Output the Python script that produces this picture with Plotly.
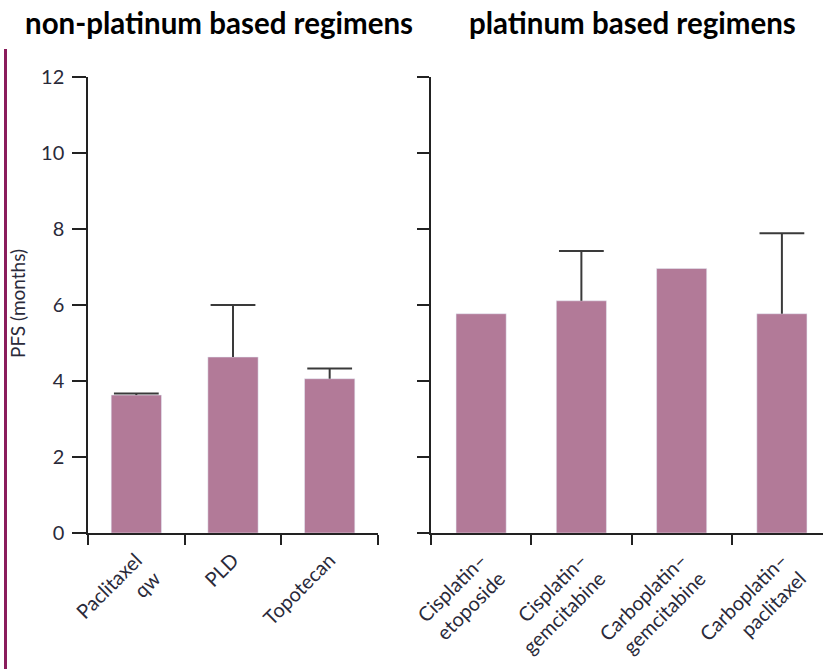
import plotly.graph_objects as go

# PFS (months) by regimen
non_plat_labels = ["Paclitaxel<br>qw", "PLD", "Topotecan"]
non_plat_pfs = [3.63, 4.63, 4.06]
non_plat_err = [0.04, 1.37, 0.27]

plat_labels = ["Cisplatin–<br>etoposide", "Cisplatin–<br>gemcitabine",
               "Carboplatin–<br>gemcitabine", "Carboplatin–<br>paclitaxel"]
plat_pfs = [5.77, 6.11, 6.96, 5.77]
plat_err = [None, 1.31, None, 2.12]

y_ticks = [0, 2, 4, 6, 8, 10, 12]
titles = ["non-platinum based regimens", "platinum based regimens"]

BAR = "#b27a98"
AXIS = "#222222"
ERR = "#3a3a3a"
FONT = "Lato"

W, H = 823, 669
T, B = 77, 136
plot_h = H - T - B


def px_x(x):
    return x / W


def px_y(y):
    return (H - B - y) / plot_h


def upper_error_traces(cats, vals, errs, xa, ya):
    """Upward-only error bars: a stem from the bar top plus a cap at the end."""
    sx, sy, cx, cy = [], [], [], []
    for c, v, e in zip(cats, vals, errs):
        if e is None:
            continue
        sx += [c, c, None]
        sy += [v, v + e, None]
        cx.append(c)
        cy.append(v + e)
    stem = go.Scatter(x=sx, y=sy, mode="lines", line=dict(color=ERR, width=2),
                      hoverinfo="skip", xaxis=xa, yaxis=ya)
    cap = go.Scatter(x=cx, y=cy, mode="markers",
                     marker=dict(symbol="line-ew", size=32,
                                 line=dict(color=ERR, width=2)),
                     hoverinfo="skip", xaxis=xa, yaxis=ya)
    return [stem, cap]


fig = go.Figure()
fig.add_trace(go.Bar(x=non_plat_labels, y=non_plat_pfs, marker=dict(color=BAR),
                     width=0.52, xaxis="x", yaxis="y"))
fig.add_trace(go.Bar(x=plat_labels, y=plat_pfs, marker=dict(color=BAR),
                     width=0.5, xaxis="x2", yaxis="y2"))
for tr in upper_error_traces(non_plat_labels, non_plat_pfs, non_plat_err, "x", "y"):
    fig.add_trace(tr)
for tr in upper_error_traces(plat_labels, plat_pfs, plat_err, "x2", "y2"):
    fig.add_trace(tr)

xcommon = dict(type="category", showline=True, linecolor=AXIS, linewidth=1.5,
               ticks="outside", tickson="boundaries", ticklen=10, tickwidth=1.5,
               tickcolor=AXIS, tickangle=-45, showgrid=False, zeroline=False,
               automargin=False, ticklabelstandoff=6,
               tickfont=dict(family=FONT, size=20, color="#2a2a3a"))
ycommon = dict(range=[0, 12], tickvals=y_ticks, showline=True, linecolor=AXIS,
               linewidth=1.5, ticks="outside", tickwidth=1.5,
               tickcolor=AXIS, showgrid=False, zeroline=False, automargin=False,
               tickfont=dict(family=FONT, size=20, color="#2a2a3a"))

fig.update_layout(
    width=W, height=H, showlegend=False,
    paper_bgcolor="white", plot_bgcolor="white",
    margin=dict(l=0, r=0, t=T, b=B),
    xaxis=dict(domain=[px_x(88), px_x(378)], range=[-0.5, 2.5], anchor="y", **xcommon),
    yaxis=dict(anchor="x", ticklen=14, ticklabelstandoff=4, **ycommon),
    xaxis2=dict(domain=[px_x(431), 1.0], range=[-0.5, 3.41], anchor="y2", **xcommon),
    yaxis2=dict(anchor="x2", showticklabels=False, ticklen=12, **ycommon),
)

for cx, text in zip([219, 632], titles):
    fig.add_annotation(x=px_x(cx), y=px_y(23), xref="paper", yref="paper",
                       text=f"<b>{text}</b>", showarrow=False,
                       xanchor="center", yanchor="middle",
                       font=dict(family=FONT, size=29.5, color="black"))

fig.add_annotation(x=px_x(17), y=px_y(304), xref="paper", yref="paper",
                   text="PFS (months)", textangle=-90, showarrow=False,
                   xanchor="center", yanchor="middle",
                   font=dict(family=FONT, size=19, color="#2a2a3a"))

# Side rule along the left edge
fig.add_shape(type="line", xref="paper", yref="paper",
              x0=px_x(5.5), x1=px_x(5.5), y0=px_y(49), y1=px_y(669),
              line=dict(color="#8a1d5c", width=3))

fig.write_html("out.html")
